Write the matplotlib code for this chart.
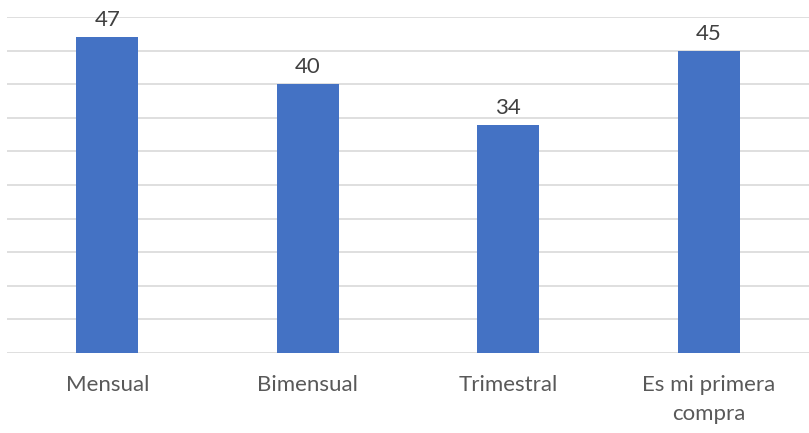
import numpy as np
import matplotlib.pyplot as plt

categorias = ["Mensual", "Bimensual", "Trimestral", "Es mi primera\ncompra"]
valores = [47, 40, 34, 45]

plt.rcParams['font.family'] = ['Lato', 'DejaVu Sans']

fig = plt.figure(figsize=(8.09, 4.33), dpi=100)
ax = fig.add_axes([7/809, 80/433, 802/809, 336/433])

x = np.arange(len(categorias))
barras = ax.bar(x, valores, width=0.31, color="#4472C4", zorder=3)

# etiquetas de valor encima de cada barra
for xi, v in zip(x, valores):
    ax.annotate(str(v), (xi, v), xytext=(0, 5), textcoords="offset points",
                ha="center", va="bottom", fontsize=16, color="#404040")

ax.set_xlim(-0.5, len(categorias) - 0.5)
ax.set_ylim(0, 50)
ax.set_yticks(np.arange(0, 51, 5))
ax.set_yticklabels([])
ax.yaxis.grid(True, color="#D9D9D9", linewidth=1.2, zorder=0)
ax.tick_params(axis="y", length=0)
ax.tick_params(axis="x", length=0, pad=16)
ax.set_xticks(x)
ax.set_xticklabels(categorias, fontsize=16, color="#595959", linespacing=1.55, va="top")
for s in ax.spines.values():
    s.set_visible(False)

fig.savefig("out.png", dpi=100)
